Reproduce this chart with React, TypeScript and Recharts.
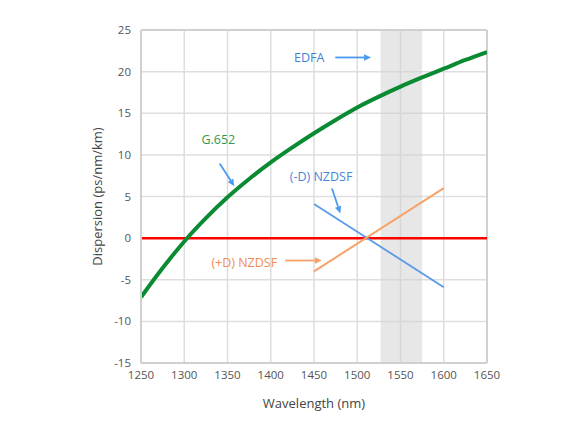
import {
  CartesianGrid,
  Line,
  LineChart,
  ReferenceArea,
  ReferenceLine,
  XAxis,
  YAxis,
} from "recharts";

// G.652 standard fibre, every 25 nm
const wavelengths = [
  1250, 1275, 1300, 1325, 1350, 1375, 1400, 1425, 1450, 1475, 1500, 1525, 1550,
  1575, 1600, 1625, 1650,
];
const g652 = [
  -7.1, -3.6, -0.4, 2.4, 4.9, 7.1, 9.1, 10.9, 12.6, 14.2, 15.7, 17.0, 18.2,
  19.3, 20.35, 21.4, 22.35,
];

// NZDSF fibres (straight segments)
const nzdsfWavelengths = [1450, 1600];
const negNzdsf = [4.1, -5.9];
const posNzdsf = [-4.0, 6.0];

// zero-dispersion line
const zeroWavelengths = [1250, 1650];
const zeroLine = [0, 0];

// EDFA amplification band
const edfaBand = [1527, 1575];

const xTicks = [1250, 1300, 1350, 1400, 1450, 1500, 1550, 1600, 1650];
const yTicks = [-15, -10, -5, 0, 5, 10, 15, 20, 25];

const GREEN = "#0b8a34";
const BLUE = "#5a9be6";
const ORANGE = "#f7a26b";
const RED = "#ff0000";
const FONT = "'Open Sans', 'Noto Sans', sans-serif";

const g652Data = wavelengths.map((w, i) => ({ w, d: g652[i] }));
const negData = nzdsfWavelengths.map((w, i) => ({ w, d: negNzdsf[i] }));
const posData = nzdsfWavelengths.map((w, i) => ({ w, d: posNzdsf[i] }));
const zeroData = zeroWavelengths.map((w, i) => ({ w, d: zeroLine[i] }));

// annotation texts and arrows, in data coordinates
const notes = [
  { text: "EDFA", w: 1444.5, d: 21.7, color: "#3f7fd8" },
  { text: "G.652", w: 1339.4, d: 11.85, color: "#2f9a4c" },
  { text: "(-D) NZDSF", w: 1458.2, d: 7.36, color: "#4a85dc" },
  { text: "(+D) NZDSF", w: 1369.4, d: -2.98, color: "#f28d52" },
];
const arrows = [
  { from: [1474.6, 21.7], to: [1516, 21.7], color: "#4a9af0" },
  { from: [1340.9, 8.97], to: [1357.9, 6.24], color: "#4a9af0" },
  { from: [1470.8, 5.96], to: [1480.4, 2.96], color: "#4a9af0" },
  { from: [1416.8, -2.69], to: [1459.2, -2.69], color: ORANGE },
];

const arrowShape = (color: string) => (p: any) => {
  const { x1, y1, x2, y2 } = p;
  const a = Math.atan2(y2 - y1, x2 - x1);
  const len = 7;
  const half = 3.2;
  const bx = x2 - len * Math.cos(a);
  const by = y2 - len * Math.sin(a);
  const px = -Math.sin(a) * half;
  const py = Math.cos(a) * half;
  return (
    <g>
      <line x1={x1} y1={y1} x2={bx} y2={by} stroke={color} strokeWidth={1.8} />
      <polygon
        points={`${x2},${y2} ${bx + px},${by + py} ${bx - px},${by - py}`}
        fill={color}
      />
    </g>
  );
};

const textShape = (text: string, color: string) => (p: any) => (
  <text
    x={p.x1}
    y={p.y1}
    fill={color}
    fontSize={12.5}
    fontFamily={FONT}
    textAnchor="middle"
    dominantBaseline="central"
  >
    {text}
  </text>
);

const tickStyle = { fill: "#555", fontSize: 11.5, fontFamily: FONT };

export default function App() {
  return (
    <div style={{ margin: -8, width: 587, height: 429, background: "#fff" }}>
      <LineChart
        width={587}
        height={429}
        margin={{ top: 30, right: 100, bottom: 16, left: 91 }}
      >
        <ReferenceArea
          x1={edfaBand[0]}
          x2={edfaBand[1]}
          fill="#cfcfcf"
          fillOpacity={0.5}
          stroke="none"
        />
        <CartesianGrid stroke="#dedede" strokeWidth={1.5} />
        <XAxis
          type="number"
          dataKey="w"
          domain={[1250, 1650]}
          ticks={xTicks}
          allowDataOverflow
          height={50}
          tickSize={0}
          tickMargin={8}
          tick={tickStyle}
          axisLine={{ stroke: "#d0d0d0", strokeWidth: 2 }}
          label={{
            value: "Wavelength (nm)",
            position: "insideBottom",
            offset: 5,
            fill: "#444",
            fontSize: 13,
            fontFamily: FONT,
          }}
        />
        <YAxis
          type="number"
          domain={[-15, 25]}
          ticks={yTicks}
          width={50}
          tickSize={0}
          tickMargin={10}
          tick={tickStyle}
          axisLine={{ stroke: "#d0d0d0", strokeWidth: 2 }}
          label={{
            value: "Dispersion (ps/nm/km)",
            angle: -90,
            position: "insideLeft",
            offset: 6,
            fill: "#444",
            fontSize: 13,
            fontFamily: FONT,
            style: { textAnchor: "middle" },
          }}
        />
        <ReferenceLine y={25} stroke="#d0d0d0" strokeWidth={2} />
        <ReferenceLine x={1650} stroke="#d0d0d0" strokeWidth={2} />
        <Line
          data={zeroData}
          dataKey="d"
          stroke={RED}
          strokeWidth={2.5}
          dot={false}
          isAnimationActive={false}
        />
        <Line
          data={negData}
          dataKey="d"
          stroke={BLUE}
          strokeWidth={1.8}
          dot={false}
          isAnimationActive={false}
        />
        <Line
          data={posData}
          dataKey="d"
          stroke={ORANGE}
          strokeWidth={2}
          dot={false}
          isAnimationActive={false}
        />
        <Line
          data={g652Data}
          dataKey="d"
          type="monotone"
          stroke={GREEN}
          strokeWidth={4}
          dot={false}
          isAnimationActive={false}
        />
        {arrows.map((a, i) => (
          <ReferenceLine
            key={`a${i}`}
            segment={[
              { x: a.from[0], y: a.from[1] },
              { x: a.to[0], y: a.to[1] },
            ]}
            shape={arrowShape(a.color)}
          />
        ))}
        {notes.map((n) => (
          <ReferenceLine
            key={n.text}
            segment={[
              { x: n.w, y: n.d },
              { x: n.w, y: n.d },
            ]}
            shape={textShape(n.text, n.color)}
          />
        ))}
      </LineChart>
    </div>
  );
}
